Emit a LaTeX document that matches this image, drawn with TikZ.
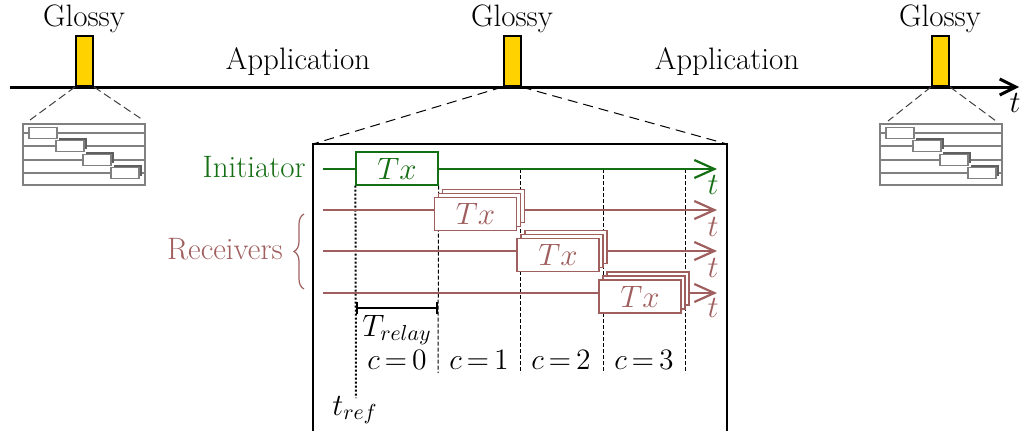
\documentclass[tikz,border=0pt]{standalone}
\usepackage{fix-cm}
\usetikzlibrary{arrows.meta,decorations.pathreplacing}
\definecolor{gcol}{RGB}{20,110,20}
\definecolor{rcol}{RGB}{160,95,95}
\definecolor{glossyfill}{RGB}{255,210,0}
\definecolor{minigray}{RGB}{128,128,128}
\definecolor{minishadow}{RGB}{95,95,95}
\newcommand\myclabelfont{\fontsize{14.8}{17}\selectfont\thickmuskip=3mu\relax}
\begin{document}
\begin{tikzpicture}[x=0.5pt,y=-0.5pt,font=\fontsize{15.5}{18}\selectfont,
  lbl/.style={inner sep=0pt},
  clbl/.style={inner sep=0pt,font=\myclabelfont},
  glossybar/.style={draw,line width=1pt,fill=glossyfill,minimum width=8.5pt,minimum height=25pt,inner sep=0pt,anchor=south},
  timeline/.style={line width=1.5pt,-{Straight Barb[length=8pt,width=8pt,line width=1.5pt]}},
  zoomline/.style={dashed,dash pattern=on 5pt off 3pt,line width=0.5pt},
  minizoom/.style={dash pattern=on 4pt off 2pt,line width=0.5pt,draw=black!75},
  frame/.style={line width=1.4pt},
  garrow/.style={gcol,line width=1.1pt,-{Straight Barb[length=10pt,width=9pt,line width=1.1pt]}},
  rarrow/.style={rcol,line width=1.1pt,-{Straight Barb[length=10pt,width=9pt,line width=1.1pt]}},
  txg/.style={draw=gcol,text=gcol,fill=white,line width=0.6pt,minimum width=41pt,minimum height=16.5pt,inner sep=0pt},
  txr/.style={draw=rcol,text=rcol,fill=white,line width=0.6pt,minimum width=41pt,minimum height=16.5pt,inner sep=0pt},
  slot/.style={dash pattern=on 2pt off 1pt,line width=0.5pt},
  refline/.style={dash pattern=on 1pt off 1pt,line width=1pt},
  relay/.style={line width=1.1pt,{Bar[width=6pt,line width=1.1pt]}-{Bar[width=6pt,line width=1.1pt]}},
  mini/.pic={
    \draw[minigray,line width=0.6pt] (0,0) rectangle (122,61);
    \foreach \yy in {9,22,36,49} \draw[minigray,line width=0.6pt] (0,\yy) -- (122,\yy);
    \foreach \xx/\yy/\ss in {6/9/0,33/22/1,60/36/1,88/49/1}{
      \ifnum\ss=1 \fill[minishadow] (\xx+2.5,\yy-8) rectangle (\xx+30.5,\yy+3); \fi
      \draw[minigray,fill=white,line width=0.6pt] (\xx,\yy-5.5) rectangle (\xx+28,\yy+5.5);
    }
  }]
\useasboundingbox (0,0) rectangle (1021,430);
\clip (0,0) rectangle (1021,430);

% main timeline
\coordinate (ms) at (10,87);
\coordinate (me) at (1019,87);
\draw[timeline] (ms) -- (me);
\node[lbl] (tmain) at (1015,103) {$t$};

% glossy bars
\node[glossybar] (g1) at (84.5,87) {};
\node[glossybar] (g2) at (512,87) {};
\node[glossybar] (g3) at (940.5,87) {};
\node[lbl] (gl1) at (84,19) {Glossy};
\node[lbl] (gl2) at (512,19) {Glossy};
\node[lbl] (gl3) at (940,19) {Glossy};
\node[lbl] (app1) at (298,62) {Application};
\node[lbl] (app2) at (727,62) {Application};

% mini zooms
\pic (m1) at (23,124) {mini};
\pic (m3) at (880,124) {mini};
\coordinate (m1l) at (30,120);
\coordinate (m1r) at (143,120);
\coordinate (m3l) at (888,121);
\coordinate (m3r) at (996,121);
\draw[minizoom] (g1.south west) -- (m1l);
\draw[minizoom] (g1.south east) -- (m1r);
\draw[minizoom] (g3.south west) -- (m3l);
\draw[minizoom] (g3.south east) -- (m3r);

% big zoom frame
\coordinate (ftl) at (313,144);
\coordinate (ftr) at (727,144);
\draw[zoomline] (g2.south west) -- (ftl);
\draw[zoomline] (g2.south east) -- (ftr);
\draw[frame] (313,440) -- (ftl) -- (ftr) -- (727,440);

% Initiator Tx
\node[txg] (tx0) at (397,168.5) {$Tx$};

% labels under
\node[lbl] (trelay) at (397,330) {$T_{relay}$};
\node[clbl] (c0) at (397,360) {$c=0$};
\node[clbl] (c1) at (479,360) {$c=1$};
\node[clbl] (c2) at (561,360) {$c=2$};
\node[clbl] (c3) at (644,360) {$c=3$};
\node[lbl] (tref) at (355,410) {$t_{ref}$};

% slot lines
\draw[refline] (tx0.south west) -- (356,398);
\draw[slot] (tx0.south east) -- (438,373);
\draw[slot] (520,169) -- (520,373);
\draw[slot] (603,169) -- (603,373);
\draw[slot] (685,169) -- (685,373);

% time axes
\coordinate (is) at (323,169); \coordinate (ie) at (717,169);
\coordinate (r1s) at (323,210); \coordinate (r1e) at (717,210);
\coordinate (r2s) at (323,251); \coordinate (r2e) at (717,251);
\coordinate (r3s) at (323,293); \coordinate (r3e) at (717,293);
\draw[garrow] (is) -- (ie);
\draw[rarrow] (r1s) -- (r1e);
\draw[rarrow] (r2s) -- (r2e);
\draw[rarrow] (r3s) -- (r3e);
\node[txg] (tx0b) at (397,168.5) {$Tx$};

% receiver Tx stacks
\foreach \nm/\cx/\cy in {ra/475.5/214,rb/558/255,rc/640/296.5}{
  \node[txr] (\nm3) at (\cx+8,\cy-8) {};
  \node[txr] (\nm2) at (\cx+4,\cy-4) {};
  \node[txr] (\nm1) at (\cx,\cy) {$Tx$};
}

% t labels
\node[lbl,text=gcol] (tg) at (713,185) {$t$};
\node[lbl,text=rcol] (t1) at (713,227) {$t$};
\node[lbl,text=rcol] (t2) at (713,268) {$t$};
\node[lbl,text=rcol] (t3) at (713,308) {$t$};

% T relay bar
\coordinate (rl) at (356,308); \coordinate (rr) at (438,308);
\draw[relay] (rl) -- (rr);

% Initiator / Receivers
\node[lbl,anchor=east,text=gcol] (init) at (306,167) {Initiator};
\node[lbl,anchor=east,text=rcol] (recv) at (283,249) {Receivers};
\coordinate (bb) at (304,289); \coordinate (bt) at (304,214);
\draw[rcol,line width=0.6pt,decorate,decoration={brace,amplitude=5pt}] (bb) -- (bt);
\end{tikzpicture}
\end{document}
